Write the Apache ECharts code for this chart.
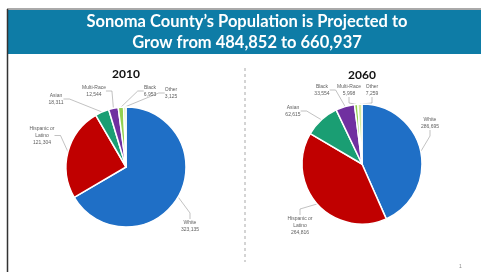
<!DOCTYPE html>
<html>
<head>
<meta charset="utf-8">
<script src="https://cdn.jsdelivr.net/npm/echarts@6/dist/echarts.min.js"></script>
<style>
  html, body { margin: 0; padding: 0; background: #fff; }
  #chart { width: 481px; height: 275px; }
</style>
</head>
<body>
<div id="chart"></div>
<script>
const groups2010 = ['White', 'Hispanic or\nLatino', 'Asian', 'Multi-Race', 'Black', 'Other'];
const values2010 = [323135, 121304, 18311, 12544, 6953, 3125];
const groups2060 = ['White', 'Hispanic or\nLatino', 'Asian', 'Black', 'Multi-Race', 'Other'];
const values2060 = [286695, 264816, 62615, 33554, 5998, 7259];
const sliceColors = ['#1f6fc6', '#c00000', '#1a9e73', '#7030a0', '#92d050', '#d6e89c'];

// label placement (centre x, top y) per slice
const labelSpots2010 = [[190, 219], [42, 125], [56, 92], [94, 84], [150, 84], [171, 86]];
const labelSpots2060 = [[430, 116], [300, 215], [293, 104], [322, 83], [349, 83], [372, 83]];

const chart = echarts.init(document.getElementById('chart'));

function toData(names, values) {
  return names.map((n, i) => ({ name: n, value: values[i], itemStyle: { color: sliceColors[i] } }));
}

const labelStyle = {
  show: true,
  position: 'outside',
  fontSize: 5,
  lineHeight: 7,
  color: '#5f5f5f',
  align: 'center',
  fontFamily: 'Liberation Sans',
  formatter: p => p.name + '\n' + p.value.toLocaleString('en-US')
};

function pieSeries(names, values, cx, cy, spots) {
  return {
    type: 'pie',
    center: [cx, cy],
    radius: 60,
    startAngle: 90,
    clockwise: true,
    avoidLabelOverlap: false,
    itemStyle: { borderColor: '#fff', borderWidth: 1.5 },
    label: labelStyle,
    labelLine: { show: true, length: 8, length2: 6, lineStyle: { color: '#999', width: 0.6 } },
    labelLayout: p => ({
      x: spots[p.dataIndex][0],
      y: spots[p.dataIndex][1],
      align: 'center',
      verticalAlign: 'top'
    }),
    emphasis: { disabled: true },
    data: toData(names, values)
  };
}

const option = {
  animation: false,
  title: [
    {
      text: 'Sonoma County\u2019s Population is Projected to\nGrow from 484,852 to 660,937',
      left: 247, top: 11, textAlign: 'center', padding: 0,
      textStyle: { color: '#fff', fontSize: 16.5, fontWeight: 'bold', fontFamily: 'Lato', lineHeight: 21 }
    },
    {
      text: '2010', left: 126, top: 68, textAlign: 'center', padding: 0,
      textStyle: { color: '#111', fontSize: 12, fontWeight: 'bold', fontFamily: 'Lato' }
    },
    {
      text: '2060', left: 362, top: 69, textAlign: 'center', padding: 0,
      textStyle: { color: '#111', fontSize: 12, fontWeight: 'bold', fontFamily: 'Lato' }
    }
  ],
  graphic: [
    { type: 'rect', z: -1, shape: { x: 8, y: 10, width: 473, height: 44 }, style: { fill: '#0e7ca6' } },
    { type: 'line', shape: { x1: 7, y1: 9, x2: 481, y2: 9 }, style: { stroke: '#555', lineWidth: 1 } },
    { type: 'line', shape: { x1: 7.5, y1: 9, x2: 7.5, y2: 272 }, style: { stroke: '#333', lineWidth: 1.5 } },
    { type: 'line', shape: { x1: 245, y1: 68, x2: 245, y2: 262 }, style: { stroke: '#aaa', lineWidth: 1, lineDash: [3, 3] } },
    { type: 'text', x: 459, y: 264, style: { text: '1', fontSize: 5, fill: '#888' } }
  ],
  series: [
    pieSeries(groups2010, values2010, 126, 167, labelSpots2010),
    pieSeries(groups2060, values2060, 362, 164, labelSpots2060)
  ]
};

chart.setOption(option);
</script>
</body>
</html>
